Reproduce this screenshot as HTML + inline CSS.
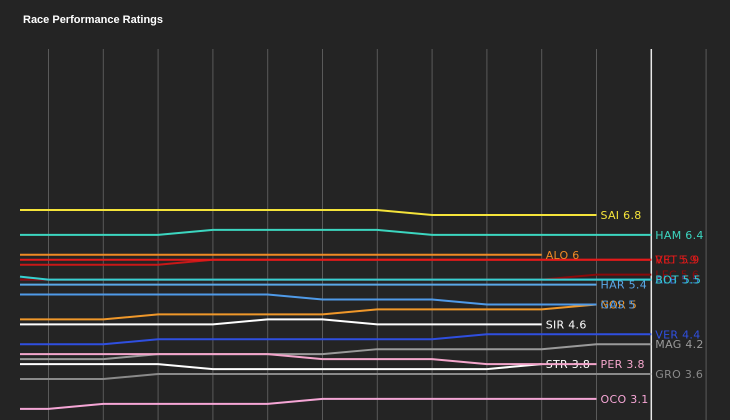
<!DOCTYPE html>
<html><head><meta charset="utf-8"><style>
html,body{margin:0;padding:0;background:#242424;}
#wrap{position:relative;width:730px;height:420px;overflow:hidden;background:#242424;font-family:"Liberation Sans","DejaVu Sans",sans-serif;}
#title{position:absolute;left:23px;top:14px;color:#fff;font-size:11px;font-weight:bold;}
</style></head><body>
<div id="wrap">
<div id="title">Race Performance Ratings</div>
<svg id="svg" width="730" height="420" style="position:absolute;left:0;top:0"></svg>
</div>
<script>
const rounds = [0,1,2,3,4,5,6,7,8,9,10,11,12];
const driverNames = ["GRO","MAG","OCO","STR","PER","VER","SIR","NOR","GAS","HAR","ALB","LEC","BOT","RIC","VET","ALO","HAM","SAI"];
const driverColors = ["#8a8a8a","#9a9a9a","#f6a6d6","#ffffff","#f4a6cc","#2f4fe0","#ffffff","#f0982a","#4f9ae8","#5aa8e8","#3a6fd8","#8b0a0a","#36d0d0","#c81818","#e41a1a","#f08a24","#3cd6c0","#f5e43a"];
const vGRO = [3.5,3.5,3.5,3.6,3.6,3.6,3.6,3.6,3.6,3.6,3.6,3.6,3.6];
const vMAG = [3.9,3.9,3.9,4.0,4.0,4.0,4.0,4.1,4.1,4.1,4.1,4.2,4.2];
const vOCO = [2.9,2.9,3.0,3.0,3.0,3.0,3.1,3.1,3.1,3.1,3.1,3.1,null];
const vSTR = [3.8,3.8,3.8,3.8,3.7,3.7,3.7,3.7,3.7,3.7,3.8,null,null];
const vPER = [4.0,4.0,4.0,4.0,4.0,4.0,3.9,3.9,3.9,3.8,3.8,3.8,null];
const vVER = [4.2,4.2,4.2,4.3,4.3,4.3,4.3,4.3,4.3,4.4,4.4,4.4,4.4];
const vSIR = [4.6,4.6,4.6,4.6,4.6,4.7,4.7,4.6,4.6,4.6,4.6,null,null];
const vNOR = [4.7,4.7,4.7,4.8,4.8,4.8,4.8,4.9,4.9,4.9,4.9,5.0,null];
const vGAS = [5.2,5.2,5.2,5.2,5.2,5.2,5.1,5.1,5.1,5.0,5.0,5.0,null];
const vHAR = [5.4,5.4,5.4,5.4,5.4,5.4,5.4,5.4,5.4,5.4,5.4,5.4,null];
const vALB = [5.5,5.5,5.5,5.5,5.5,5.5,5.5,5.5,5.5,5.5,5.5,5.5,5.5];
const vLEC = [5.5,5.5,5.5,5.5,5.5,5.5,5.5,5.5,5.5,5.5,5.5,5.6,5.6];
const vBOT = [5.56,5.5,5.5,5.5,5.5,5.5,5.5,5.5,5.5,5.5,5.5,5.5,5.5];
const vRIC = [5.8,5.8,5.8,5.8,5.9,5.9,5.9,5.9,5.9,5.9,5.9,5.9,5.9];
const vVET = [5.9,5.9,5.9,5.9,5.9,5.9,5.9,5.9,5.9,5.9,5.9,5.9,5.9];
const vALO = [6.0,6.0,6.0,6.0,6.0,6.0,6.0,6.0,6.0,6.0,6.0,null,null];
const vHAM = [6.4,6.4,6.4,6.4,6.5,6.5,6.5,6.5,6.4,6.4,6.4,6.4,6.4];
const vSAI = [6.9,6.9,6.9,6.9,6.9,6.9,6.9,6.9,6.8,6.8,6.8,6.8,null];
const seriesValues = [vGRO,vMAG,vOCO,vSTR,vPER,vVER,vSIR,vNOR,vGAS,vHAR,vALB,vLEC,vBOT,vRIC,vVET,vALO,vHAM,vSAI];

const NS = "http://www.w3.org/2000/svg";
const svg = document.getElementById("svg");
function xScale(r){ return r === 0 ? 20 : 48.5 + (r - 1) * 54.8; }
function yScale(v){ return 215 + (6.8 - v) * 49.7; }

for (let r = 1; r <= 13; r++) {
  const g = document.createElementNS(NS, "line");
  const x = xScale(r);
  g.setAttribute("x1", x); g.setAttribute("x2", x);
  g.setAttribute("y1", 49); g.setAttribute("y2", 420);
  g.setAttribute("stroke", r === 12 ? "#e8e8e8" : "#5a5a5a");
  g.setAttribute("stroke-width", r === 12 ? 1.5 : 1);
  
  
  svg.appendChild(g);
}

seriesValues.forEach((vals, i) => {
  let pts = [], last = -1;
  vals.forEach((v, k) => { if (v !== null) { pts.push(xScale(rounds[k]) + "," + yScale(v)); last = k; } });
  const pl = document.createElementNS(NS, "polyline");
  pl.setAttribute("points", pts.join(" "));
  pl.setAttribute("fill", "none");
  pl.setAttribute("stroke", driverColors[i]);
  pl.setAttribute("stroke-width", 2);
  
  
  svg.appendChild(pl);
  const t = document.createElementNS(NS, "text");
  t.setAttribute("x", xScale(rounds[last]) + 4);
  t.setAttribute("y", yScale(vals[last]) + 4);
  t.setAttribute("fill", driverColors[i]);
  t.setAttribute("font-size", "11");
  t.setAttribute("font-family", "DejaVu Sans, sans-serif");
  t.setAttribute("letter-spacing", "0.3");
  t.textContent = driverNames[i] + " " + vals[last];
  
  
  svg.appendChild(t);
});
</script>
</body></html>
